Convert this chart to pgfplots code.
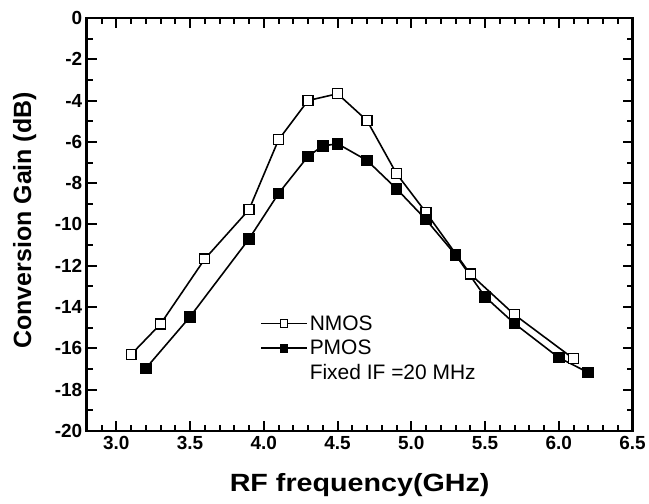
\documentclass[border=0pt]{standalone}
\usepackage{fontspec}
\setmainfont{Liberation Sans}
\usepackage{graphicx}
\usepackage{pgfplots}
\pgfplotsset{compat=1.18}
\begin{document}
\begin{tikzpicture}
\begin{axis}[
  scale only axis, width=547pt, height=414pt,
  xmin=2.8, xmax=6.5, ymin=-20, ymax=0,
  xtick={3,3.5,4,4.5,5,5.5,6,6.5},
  ytick={-20,-18,-16,-14,-12,-10,-8,-6,-4,-2,0},
  minor xtick={2.9,3.1,3.2,3.3,3.4,3.6,3.7,3.8,3.9,4.1,4.2,4.3,4.4,4.6,4.7,4.8,4.9,5.1,5.2,5.3,5.4,5.6,5.7,5.8,5.9,6.1,6.2,6.3,6.4},
  minor ytick={-19,-17,-15,-13,-11,-9,-7,-5,-3,-1},
  tick align=inside, major tick length=10pt, minor tick length=6pt,
  every tick/.style={line width=2pt, black},
  axis line style={line width=2.8pt},
  /pgf/number format/assume math mode=true,
  ticklabel style={font=\fontsize{19}{21}\selectfont\bfseries},
  x tick label style={/pgf/number format/fixed, /pgf/number format/fixed zerofill, /pgf/number format/precision=1, yshift=-2pt},
  y tick label style={xshift=-1pt},
  xlabel={\scalebox{1.15}[1]{RF frequency(GHz)}},
  ylabel={Conversion Gain (dB)},
  label style={font=\fontsize{25}{28}\selectfont\bfseries},
  xlabel style={anchor=base, at={(axis description cs:0.5,-0.1473)}},
  ylabel style={anchor=center, at={(axis description cs:-0.114,0.51)}},
  legend style={at={(axis cs:3.975,-14.3)}, anchor=north west, draw=none, fill=none,
    font=\fontsize{21}{23}\selectfont, row sep=4.5pt, inner sep=0pt},
  legend cell align=left,
  legend image code/.code={\draw[mark=none] (0pt,0pt) -- (46pt,0pt); \draw[mark size=3.6pt] plot coordinates {(23pt,0pt)};},
]
\addplot[black, line width=1.6pt, mark=square*, mark size=5pt, mark options={fill=white, line width=1.1pt}] coordinates {
(3.1,-16.3) (3.3,-14.82) (3.6,-11.67) (3.9,-9.28) (4.1,-5.9) (4.3,-4.0) (4.5,-3.67) (4.7,-4.97) (4.9,-7.54) (5.1,-9.42) (5.4,-12.4) (5.7,-14.37) (6.1,-16.5)
};
\addlegendentry{NMOS}
\addplot[black, line width=1.6pt, mark=square*, mark size=5pt, mark options={fill=black}] coordinates {
(3.2,-16.97) (3.5,-14.47) (3.9,-10.7) (4.1,-8.5) (4.3,-6.7) (4.4,-6.2) (4.5,-6.09) (4.7,-6.9) (4.9,-8.27) (5.1,-9.77) (5.3,-11.47) (5.5,-13.5) (5.7,-14.8) (6.0,-16.45) (6.2,-17.17)
};
\addlegendentry{PMOS}
\addlegendimage{empty legend}
\addlegendentry{Fixed IF =20 MHz}
\end{axis}
\path (current axis.south west) ++(-87pt,-73pt) rectangle ++(649pt,505pt);
\end{tikzpicture}
\end{document}
